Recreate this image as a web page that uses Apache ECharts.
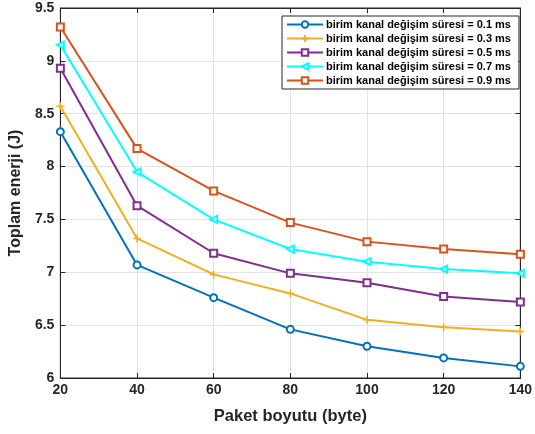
<!DOCTYPE html>
<html><head><meta charset="utf-8">
<script src="https://cdn.jsdelivr.net/npm/echarts@6/dist/echarts.min.js"></script>
<style>html,body{margin:0;padding:0;background:#fff}#c{width:535px;height:434px}</style>
</head><body><div id="c"></div>
<script>
const xValues = [20, 40, 60, 80, 100, 120, 140];
const seriesNames = [
  'birim kanal değişim süresi = 0.1 ms',
  'birim kanal değişim süresi = 0.3 ms',
  'birim kanal değişim süresi = 0.5 ms',
  'birim kanal değişim süresi = 0.7 ms',
  'birim kanal değişim süresi = 0.9 ms'
];
const s01 = [8.33, 7.07, 6.76, 6.46, 6.30, 6.19, 6.11];
const s03 = [8.57, 7.32, 6.98, 6.80, 6.55, 6.48, 6.44];
const s05 = [8.93, 7.63, 7.18, 6.99, 6.90, 6.77, 6.72];
const s07 = [9.15, 7.95, 7.50, 7.22, 7.10, 7.03, 6.99];
const s09 = [9.32, 8.17, 7.77, 7.47, 7.29, 7.22, 7.17];
const yTicks = [6, 6.5, 7, 7.5, 8, 8.5, 9, 9.5];

const colors = ['#0072BD', '#EDB120', '#7E2F8E', '#00FFFF', '#D95319'];
const plusPath = 'path://M5,0 L5,10 M0,5 L10,5';
const symbols = ['emptyCircle', plusPath, 'emptyRect', 'emptyTriangle', 'emptyRect'];
const rotations = [0, 0, 0, 90, 0];
const allData = [s01, s03, s05, s07, s09];

const chart = echarts.init(document.getElementById('c'));
const font = 'Liberation Sans, Arial, Helvetica, sans-serif';
const series = allData.map((d, i) => ({
  name: seriesNames[i],
  type: 'line',
  data: d.map((v, j) => [xValues[j], v]),
  color: colors[i],
  lineStyle: { width: 2, color: colors[i] },
  symbol: symbols[i],
  symbolRotate: rotations[i],
  symbolSize: i === 1 ? 8 : 7,
  itemStyle: { color: colors[i], borderColor: colors[i], borderWidth: 1.5 },
  showSymbol: true,
  animation: false,
  z: 3 + i
}));

chart.setOption({
  animation: false,
  backgroundColor: '#fff',
  textStyle: { fontFamily: font },
  grid: { left: 58, right: 13, top: 8, bottom: 56, show: true, borderColor: '#262626', borderWidth: 1, backgroundColor: '#fff' },
  legend: {
    orient: 'vertical',
    left: 282, top: 16,
    itemWidth: 36, itemHeight: 8, itemGap: 3,
    padding: [3, 8, 3, 4],
    backgroundColor: '#fff',
    borderColor: '#262626', borderWidth: 1,
    textStyle: { fontFamily: font, fontSize: 11, fontWeight: 'bold', color: '#000', padding: [0, 0, 0, -2] },
    data: seriesNames
  },
  xAxis: [{
    type: 'value', min: 20, max: 140, interval: 20,
    name: 'Paket boyutu (byte)', nameLocation: 'middle', nameGap: 30,
    nameTextStyle: { fontFamily: font, fontSize: 16.5, fontWeight: 'bold', color: '#262626' },
    axisLine: { show: true, lineStyle: { color: '#262626' } },
    axisTick: { show: true, inside: true, length: 5, lineStyle: { color: '#262626' } },
    axisLabel: { fontFamily: font, fontSize: 14, fontWeight: 'bold', color: '#262626', margin: 5 },
    splitLine: { show: true, lineStyle: { color: '#e3e3e3', width: 1 } }
  }, {
    type: 'value', min: 20, max: 140, interval: 20, position: 'top',
    axisLine: { show: true, lineStyle: { color: '#262626' } },
    axisTick: { show: true, inside: true, length: 5, lineStyle: { color: '#262626' } },
    axisLabel: { show: false }, splitLine: { show: false }
  }],
  yAxis: [{
    type: 'value', min: 6, max: 9.5, interval: 0.5,
    name: 'Toplam enerji (J)', nameLocation: 'middle', nameGap: 34,
    nameTextStyle: { fontFamily: font, fontSize: 16, fontWeight: 'bold', color: '#262626' },
    axisLine: { show: true, lineStyle: { color: '#262626' } },
    axisTick: { show: true, inside: true, length: 5, lineStyle: { color: '#262626' } },
    axisLabel: { fontFamily: font, fontSize: 14, fontWeight: 'bold', color: '#262626', margin: 6,
      formatter: v => yTicks.includes(v) ? String(v) : '' },
    splitLine: { show: true, lineStyle: { color: '#e3e3e3', width: 1 } }
  }, {
    type: 'value', min: 6, max: 9.5, interval: 0.5, position: 'right',
    axisLine: { show: true, lineStyle: { color: '#262626' } },
    axisTick: { show: true, inside: true, length: 5, lineStyle: { color: '#262626' } },
    axisLabel: { show: false }, splitLine: { show: false }
  }],
  series: series
});
</script></body></html>
